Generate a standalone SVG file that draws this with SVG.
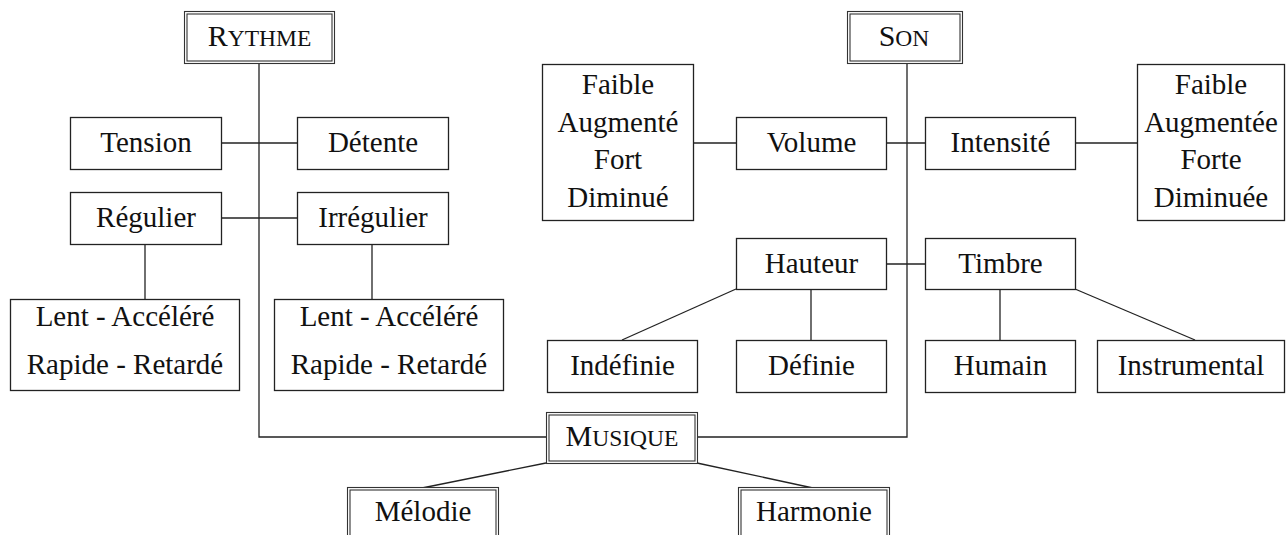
<svg xmlns="http://www.w3.org/2000/svg" width="1286" height="535" viewBox="0 0 1286 535">
<style>
.b{fill:#fff;stroke:#222;stroke-width:1.3}
.d{fill:#fff;stroke:#333;stroke-width:1.1}
.c{fill:none;stroke:#222;stroke-width:1.3}
text{font-family:"Liberation Serif","Times New Roman",serif;font-size:29px;fill:#111;text-anchor:middle}
.sc{font-size:30px}
.sm{font-size:23.5px}
</style>
<rect width="1286" height="535" fill="#fff"/>
<g id="connectors">
<polyline class="c" points="259,63 259,437 546,437"/>
<polyline class="c" points="907,63 907,437 697,437"/>
<line class="c" x1="221" y1="143" x2="297" y2="143"/>
<line class="c" x1="221" y1="218" x2="297" y2="218"/>
<line class="c" x1="145" y1="244" x2="145" y2="299"/>
<line class="c" x1="372" y1="244" x2="372" y2="299"/>
<line class="c" x1="693" y1="143" x2="736" y2="143"/>
<line class="c" x1="886" y1="143" x2="925" y2="143"/>
<line class="c" x1="1075" y1="143" x2="1137" y2="143"/>
<line class="c" x1="886" y1="264" x2="925" y2="264"/>
<line class="c" x1="736" y1="289" x2="622" y2="340"/>
<line class="c" x1="811" y1="289" x2="811" y2="340"/>
<line class="c" x1="1000" y1="289" x2="1000" y2="340"/>
<line class="c" x1="1075" y1="289" x2="1195" y2="340"/>
<line class="c" x1="546" y1="463" x2="422" y2="488"/>
<line class="c" x1="697" y1="463" x2="813" y2="488"/>
</g>
<g id="rythme"><rect class="d" x="184.5" y="11.5" width="150" height="52"/><rect class="d" x="187" y="14" width="145" height="47"/><text class="sc" x="259.5" y="46">R<tspan class="sm">YTHME</tspan></text></g>
<g id="son"><rect class="d" x="847.5" y="11.5" width="115" height="52"/><rect class="d" x="850" y="14" width="110" height="47"/><text class="sc" x="904" y="46">S<tspan class="sm">ON</tspan></text></g>
<g id="musique"><rect class="d" x="546.5" y="412.5" width="151" height="51"/><rect class="d" x="549" y="415" width="146" height="46"/><text class="sc" x="622" y="446">M<tspan class="sm">USIQUE</tspan></text></g>
<g id="melodie"><rect class="d" x="347.5" y="487.5" width="151" height="60"/><rect class="d" x="350" y="490" width="146" height="60"/><text x="423" y="521">Mélodie</text></g>
<g id="harmonie"><rect class="d" x="738.5" y="487.5" width="151" height="60"/><rect class="d" x="741" y="490" width="146" height="60"/><text x="814" y="521">Harmonie</text></g>
<g id="tension"><rect class="b" x="70.5" y="117.5" width="151" height="52"/><text x="146" y="152">Tension</text></g>
<g id="detente"><rect class="b" x="297.5" y="117.5" width="151" height="52"/><text x="373" y="152">Détente</text></g>
<g id="regulier"><rect class="b" x="70.5" y="192.5" width="151" height="52"/><text x="146" y="227">Régulier</text></g>
<g id="irregulier"><rect class="b" x="297.5" y="192.5" width="151" height="52"/><text x="373" y="227">Irrégulier</text></g>
<g id="lent1"><rect class="b" x="10.5" y="299.5" width="229" height="91"/><text x="125" y="326">Lent - Accéléré</text><text x="125" y="374">Rapide - Retardé</text></g>
<g id="lent2"><rect class="b" x="274.5" y="299.5" width="229" height="91"/><text x="389" y="326">Lent - Accéléré</text><text x="389" y="374">Rapide - Retardé</text></g>
<g id="faible1"><rect class="b" x="542.5" y="64.5" width="151" height="156"/><text x="618" y="94">Faible</text><text x="618" y="131.5">Augmenté</text><text x="618" y="169">Fort</text><text x="618" y="206.5">Diminué</text></g>
<g id="volume"><rect class="b" x="736.5" y="117.5" width="150" height="52"/><text x="811.5" y="152">Volume</text></g>
<g id="intensite"><rect class="b" x="925.5" y="117.5" width="150" height="52"/><text x="1000.5" y="152">Intensité</text></g>
<g id="faible2"><rect class="b" x="1137.5" y="64.5" width="147" height="156"/><text x="1211" y="94">Faible</text><text x="1211" y="131.5">Augmentée</text><text x="1211" y="169">Forte</text><text x="1211" y="206.5">Diminuée</text></g>
<g id="hauteur"><rect class="b" x="736.5" y="238.5" width="150" height="51"/><text x="811.5" y="273">Hauteur</text></g>
<g id="timbre"><rect class="b" x="925.5" y="238.5" width="150" height="51"/><text x="1000.5" y="273">Timbre</text></g>
<g id="indefinie"><rect class="b" x="547.5" y="340.5" width="150" height="52"/><text x="622.5" y="375">Indéfinie</text></g>
<g id="definie"><rect class="b" x="736.5" y="340.5" width="150" height="52"/><text x="811.5" y="375">Définie</text></g>
<g id="humain"><rect class="b" x="925.5" y="340.5" width="150" height="52"/><text x="1000.5" y="375">Humain</text></g>
<g id="instrumental"><rect class="b" x="1097.5" y="340.5" width="187" height="52"/><text x="1191" y="375">Instrumental</text></g>
</svg>
